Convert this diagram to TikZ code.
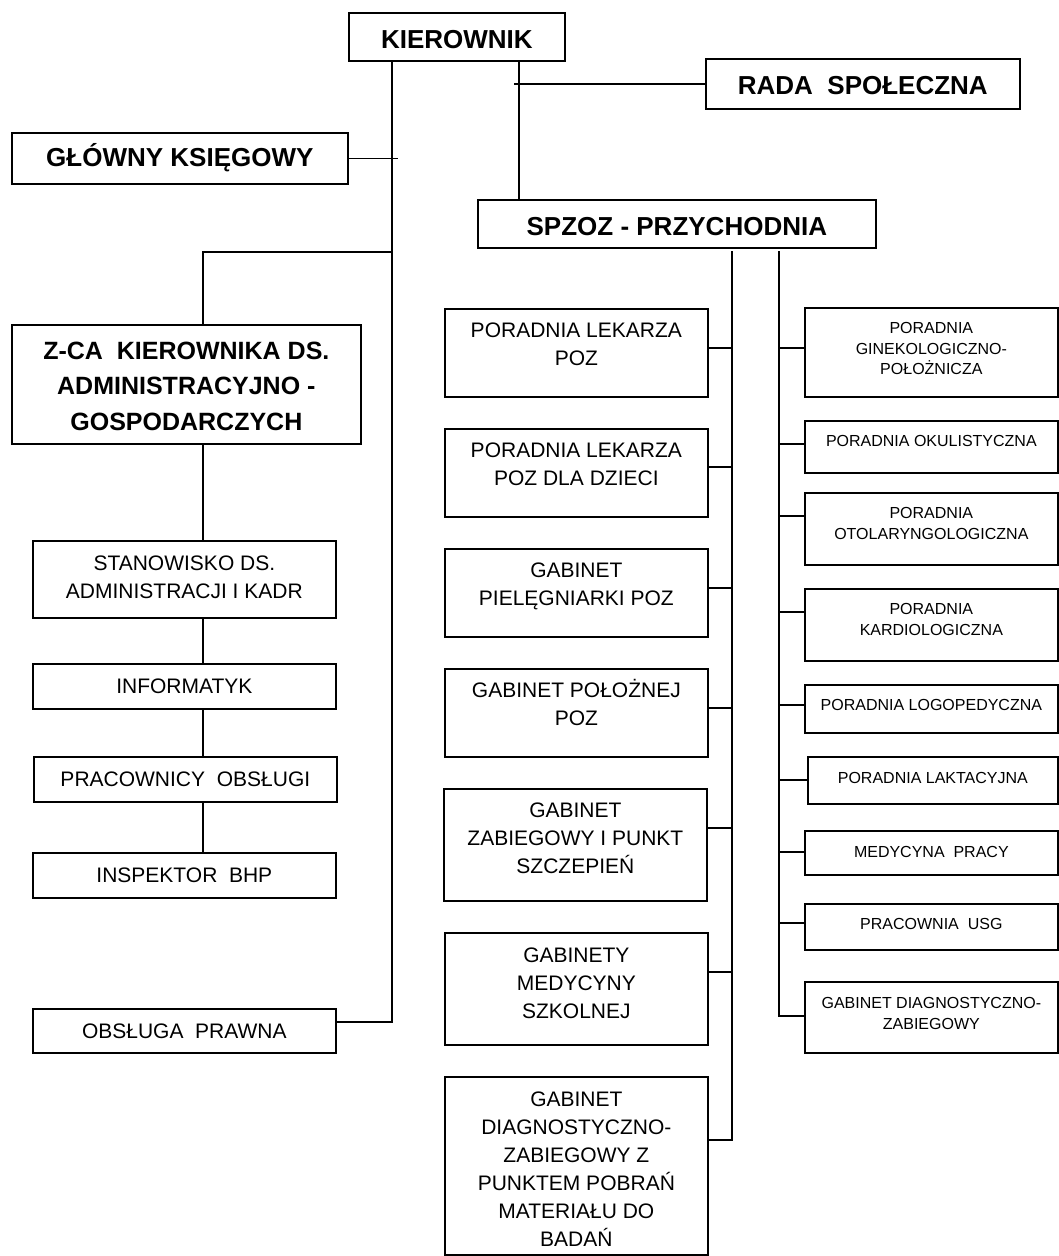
\documentclass[tikz,border=0pt]{standalone}
\usepackage{fontspec}
\setmainfont{Liberation Sans}
\newcommand{\fl}{\rule{0pt}{1em}}
\tikzset{
    box/.style={draw, line width=1.7pt, rectangle, inner sep=0pt, anchor=north west},
    boxtxt/.style={anchor=north, align=center, inner sep=0pt},
    bigtxt/.style={boxtxt, yshift=-10.2pt, font=\bfseries\fontsize{26}{35}\selectfont},
    lefttxt/.style={boxtxt, yshift=-9.7pt, font=\fontsize{21}{27.5}\selectfont},
    midtxt/.style={boxtxt, yshift=-8.7pt, font=\fontsize{21}{28}\selectfont},
    righttxt/.style={boxtxt, yshift=-10.2pt, font=\fontsize{16}{20.7}\selectfont},
    leftbox/.style={box, minimum width=303pt, minimum height=#1},
    midbox/.style={box, minimum width=263pt, minimum height=#1},
    rightbox/.style={box, minimum width=253pt, minimum height=#1},
    conn/.style={draw, line width=1.4pt},
}
\begin{document}
\begin{tikzpicture}[x=1pt,y=-1pt]
\useasboundingbox (0,0) rectangle (1059,1256);

% top level
\node[box, minimum width=216pt, minimum height=48pt, label={[bigtxt]north:{\fl KIEROWNIK}}] (kier) at (348,12) {};
\node[box, minimum width=314pt, minimum height=50pt, label={[bigtxt]north:{\fl RADA~~SPOŁECZNA}}] (rada) at (705,58) {};
\node[box, minimum width=336pt, minimum height=51pt, label={[bigtxt, yshift=2pt]north:{\fl GŁÓWNY KSIĘGOWY}}] (glow) at (11,132) {};
\node[box, minimum width=398pt, minimum height=48pt, label={[bigtxt]north:{\fl SPZOZ - PRZYCHODNIA}}] (spz) at (477,199) {};
\node[box, minimum width=349pt, minimum height=119pt, label={[bigtxt, font=\bfseries\fontsize{25}{35.5}\selectfont]north:{\fl Z-CA~~KIEROWNIKA DS.\\ADMINISTRACYJNO -\\GOSPODARCZYCH}}] (zca) at (11,324) {};

% left column
\node[leftbox=77pt, label={[lefttxt]north:{\fl STANOWISKO DS.\\ADMINISTRACJI I KADR}}] (stan) at (32,540) {};
\node[leftbox=45pt, label={[lefttxt]north:{\fl INFORMATYK}}] (info) at (32,663) {};
\node[leftbox=45pt, label={[lefttxt]north:{\fl PRACOWNICY~~OBSŁUGI}}] (prac) at (33,756) {};
\node[leftbox=45pt, label={[lefttxt]north:{\fl INSPEKTOR~~BHP}}] (insp) at (32,852) {};
\node[leftbox=44pt, label={[lefttxt]north:{\fl OBSŁUGA~~PRAWNA}}] (obs) at (32,1008) {};

% middle column
\node[midbox=88pt, label={[midtxt]north:{\fl PORADNIA LEKARZA\\POZ}}] (pl1) at (444,308) {};
\node[midbox=88pt, label={[midtxt]north:{\fl PORADNIA LEKARZA\\POZ DLA DZIECI}}] (pl2) at (444,428) {};
\node[midbox=88pt, label={[midtxt]north:{\fl GABINET\\PIELĘGNIARKI POZ}}] (gpp) at (444,548) {};
\node[midbox=88pt, label={[midtxt]north:{\fl GABINET POŁOŻNEJ\\POZ}}] (gpo) at (444,668) {};
\node[midbox=112pt, label={[midtxt]north:{\fl GABINET\\ZABIEGOWY I PUNKT\\SZCZEPIEŃ}}] (gzp) at (443,788) {};
\node[midbox=112pt, label={[midtxt, yshift=-1pt]north:{\fl GABINETY\\MEDYCYNY\\SZKOLNEJ}}] (gms) at (444,932) {};
\node[midbox=178pt, label={[midtxt, yshift=-1pt]north:{\fl GABINET\\DIAGNOSTYCZNO-\\ZABIEGOWY Z\\PUNKTEM POBRAŃ\\MATERIAŁU DO\\BADAŃ}}] (gdz) at (444,1076) {};

% right column
\node[rightbox=89pt, label={[righttxt]north:{\fl PORADNIA\\GINEKOLOGICZNO-\\POŁOŻNICZA}}] (pgin) at (804,307) {};
\node[rightbox=52pt, label={[righttxt]north:{\fl PORADNIA OKULISTYCZNA}}] (pok) at (804,420) {};
\node[rightbox=72pt, label={[righttxt]north:{\fl PORADNIA\\OTOLARYNGOLOGICZNA}}] (pot) at (804,492) {};
\node[rightbox=72pt, label={[righttxt]north:{\fl PORADNIA\\KARDIOLOGICZNA}}] (pkar) at (804,588) {};
\node[rightbox=48pt, label={[righttxt]north:{\fl PORADNIA LOGOPEDYCZNA}}] (plog) at (804,684) {};
\node[box, minimum width=250pt, minimum height=47pt, label={[righttxt, yshift=-1pt]north:{\fl PORADNIA LAKTACYJNA}}] (plak) at (807,756) {};
\node[rightbox=44pt, label={[righttxt, yshift=-1pt]north:{\fl MEDYCYNA~~PRACY}}] (mp) at (804,830) {};
\node[rightbox=46pt, label={[righttxt]north:{\fl PRACOWNIA~~USG}}] (usg) at (804,903) {};
\node[rightbox=71pt, label={[righttxt, yshift=-1pt]north:{\fl GABINET DIAGNOSTYCZNO-\\ZABIEGOWY}}] (rgd) at (804,981) {};

% connectors
\coordinate (spine) at (392,0);
\coordinate (gend) at (398,0);
\coordinate (lcol) at (203,0);
\coordinate (rstub) at (514,0);
\coordinate (rv) at (519,0);
\coordinate (mcol) at (732,251);
\coordinate (rcol) at (779,251);

\draw[conn] (kier.south -| spine) |- ([yshift=9pt]obs.east);
\draw[conn] (glow.east) -- (glow.east -| gend);
\draw[conn] (zca.north -| lcol) |- (spine |- 0,252);
\draw[conn] (kier.south -| rv) -- (spz.north -| rv);
\draw[conn] (rada.west) -- (rada.west -| rstub);
\path[conn]
(zca.south -| lcol) edge (stan.north -| lcol)
(stan.south -| lcol) edge (info.north -| lcol)
(info.south -| lcol) edge (prac.north -| lcol)
(prac.south -| lcol) edge (insp.north -| lcol);

\draw[conn] (mcol) |- (gdz.east |- 0,1140);
\draw[conn] (rcol) |- (rgd.west |- 0,1016);
\foreach \n/\y in {pl1/348, pl2/467, gpp/588, gpo/708, gzp/828, gms/972}
    \draw[conn] (\n.east |- 0,\y) -- (mcol |- 0,\y);
\foreach \n/\y in {pgin/348, pok/444, pot/516, pkar/612, plog/705, plak/780, mp/852, usg/923}
    \draw[conn] (rcol |- 0,\y) -- (\n.west |- 0,\y);
\end{tikzpicture}
\end{document}
